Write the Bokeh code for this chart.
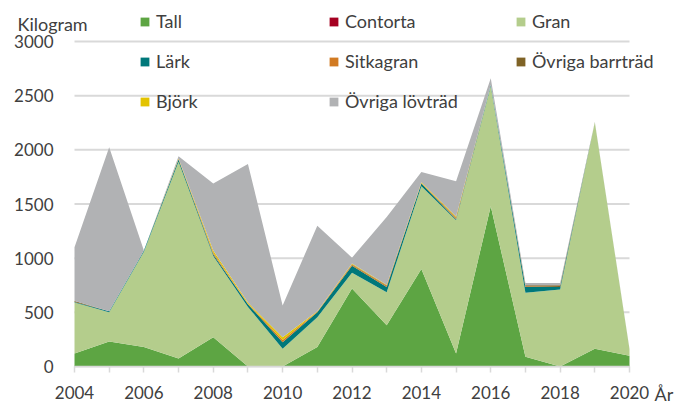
from bokeh.plotting import figure
from bokeh.models import Range1d, FixedTicker, Legend, LegendItem, Label, ColumnDataSource
from bokeh.embed import file_html
from bokeh.resources import INLINE

years = list(range(2004, 2021))
tall = [120, 230, 180, 75, 270, 0, 0, 180, 720, 380, 900, 120, 1480, 90, 0, 165, 100]
contorta = [0, 0, 0, 0, 0, 0, 0, 0, 0, 0, 0, 0, 0, 0, 0, 0, 0]
gran = [470, 270, 880, 1815, 750, 550, 165, 275, 145, 305, 765, 1230, 1110, 590, 710, 2090, 60]
lark = [5, 10, 10, 20, 15, 25, 60, 45, 65, 50, 25, 10, 10, 55, 25, 0, 0]
sitkagran = [0, 0, 0, 5, 10, 5, 20, 5, 10, 10, 5, 10, 0, 5, 0, 0, 0]
ovriga_barr = [10, 0, 0, 0, 5, 0, 0, 0, 5, 5, 0, 5, 0, 10, 15, 0, 0]
bjork = [0, 0, 0, 5, 20, 10, 25, 5, 5, 5, 5, 10, 0, 0, 0, 0, 0]
ovriga_lov = [495, 1515, 0, 20, 620, 1280, 293, 790, 55, 625, 95, 325, 60, 20, 20, 5, 5]

series_keys = ["tall", "contorta", "gran", "lark", "sitkagran", "ovriga_barr", "bjork", "ovriga_lov"]
series_labels = ["Tall", "Contorta", "Gran", "Lärk", "Sitkagran", "Övriga barrträd", "Björk", "Övriga lövträd"]
series_colors = ["#5DA543", "#A50021", "#B4CD8C", "#00787A", "#D17A22", "#7F6326", "#E3C300", "#B1B2B4"]

y_ticks = [0, 500, 1000, 1500, 2000, 2500, 3000]
x_tick_labels = {y: (str(y) if y % 2 == 0 else "") for y in years}

FONT = "Lato"
TXT = "#404040"
W, H = 681, 403

source = ColumnDataSource(dict(year=years, tall=tall, contorta=contorta, gran=gran, lark=lark,
                               sitkagran=sitkagran, ovriga_barr=ovriga_barr, bjork=bjork,
                               ovriga_lov=ovriga_lov))

# frame fills the canvas; 2004 -> px 74, 2020 -> px 629, 0 -> px 366, 3000 -> px 41
px_per_year = (629 - 74) / 16
px_per_kg = (366 - 41) / 3000
x_range = Range1d(years[0] - 74 / px_per_year, years[-1] + (W - 629) / px_per_year)
y_range = Range1d(-(H - 366) / px_per_kg, y_ticks[-1] + 41 / px_per_kg)

p = figure(width=W, height=H, output_backend="svg", toolbar_location=None,
           x_range=x_range, y_range=y_range,
           min_border_left=0, min_border_right=0, min_border_top=0, min_border_bottom=0)

p.outline_line_color = None
p.background_fill_color = "white"
p.xgrid.visible = False
p.ygrid.visible = False

# horizontal gridlines spanning the year range only
p.segment(x0=[years[0]] * len(y_ticks), x1=[years[-1]] * len(y_ticks), y0=y_ticks, y1=y_ticks,
          line_color="#D9D9D9", line_width=2)

renderers = p.varea_stack(stackers=series_keys, x="year", color=series_colors, source=source)

p.yaxis.fixed_location = years[0]
p.yaxis.ticker = FixedTicker(ticks=y_ticks)
p.yaxis.axis_line_color = None
p.yaxis.major_tick_line_color = None
p.yaxis.minor_tick_line_color = None
p.yaxis.major_tick_out = 0
p.yaxis.major_tick_in = 0
p.yaxis.major_label_standoff = 21
p.yaxis.major_label_text_font = FONT
p.yaxis.major_label_text_font_size = "17px"
p.yaxis.major_label_text_color = TXT

p.xaxis.fixed_location = 0
p.xaxis.bounds = (years[0], years[-1])
p.xaxis.ticker = FixedTicker(ticks=years)
p.xaxis.major_label_overrides = x_tick_labels
p.xaxis.axis_line_color = "#D9D9D9"
p.xaxis.axis_line_width = 1.5
p.xaxis.major_tick_line_color = "#D9D9D9"
p.xaxis.major_tick_line_width = 1.5
p.xaxis.major_tick_out = 6
p.xaxis.major_tick_in = 0
p.xaxis.minor_tick_line_color = None
p.xaxis.major_label_standoff = 13
p.xaxis.major_label_text_font = FONT
p.xaxis.major_label_text_font_size = "17px"
p.xaxis.major_label_text_color = TXT

# legend: one legend per item, arranged in 3 columns x 3 rows
col_x = [139, 328, 515]
row_y = [H - 32, H - 72, H - 112]
for i, (r, lab) in enumerate(zip(renderers, series_labels)):
    row, col = divmod(i, 3)
    leg = Legend(items=[LegendItem(label=lab, renderers=[r])],
                 location=(col_x[col], row_y[row]),
                 padding=0, margin=0, spacing=0,
                 border_line_color=None, background_fill_alpha=0,
                 glyph_width=11, glyph_height=11, label_standoff=6,
                 label_text_font=FONT, label_text_font_size="18px",
                 label_text_color=TXT)
    p.add_layout(leg, "center")

p.add_layout(Label(x=17, y=H - 23, x_units="screen", y_units="screen", text="Kilogram",
                   text_font=FONT, text_font_size="18px", text_color=TXT,
                   text_baseline="alphabetic", text_align="left"))
p.add_layout(Label(x=654, y=H - 393, x_units="screen", y_units="screen", text="År",
                   text_font=FONT, text_font_size="18px", text_color=TXT,
                   text_baseline="alphabetic", text_align="left"))

open("out.html", "w").write(file_html(p, INLINE))
